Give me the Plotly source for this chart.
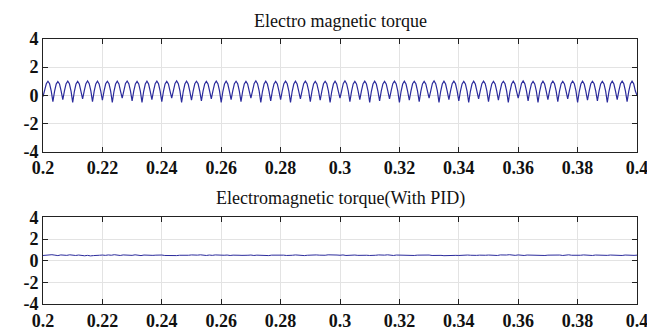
import numpy as np
import plotly.graph_objects as go

# ---- data ----
x_ticks = [0.2, 0.22, 0.24, 0.26, 0.28, 0.3, 0.32, 0.34, 0.36, 0.38, 0.4]
x_tick_labels = ["0.2", "0.22", "0.24", "0.26", "0.28", "0.3", "0.32", "0.34", "0.36", "0.38", "0.4"]
y_ticks = [-4, -2, 0, 2, 4]
y_tick_labels = ["-4", "-2", "0", "2", "4"]

# Top: electromagnetic torque without PID (60 ripples between 0.2 s and 0.4 s)
torque_plain = [
    -0.10, 0.30, 0.82, 1.00, 0.82, 0.30,
    -0.45, 0.28, 0.80, 0.98, 0.81, 0.29,
    -0.30, 0.31, 0.83, 1.01, 0.82, 0.30,
    -0.50, 0.27, 0.80, 0.99, 0.80, 0.28,
    -0.25, 0.32, 0.83, 1.02, 0.83, 0.31,
    -0.45, 0.28, 0.81, 1.00, 0.81, 0.29,
    -0.35, 0.30, 0.82, 0.99, 0.82, 0.30,
    -0.50, 0.27, 0.80, 1.00, 0.81, 0.28,
    -0.20, 0.32, 0.84, 1.01, 0.83, 0.31,
    -0.40, 0.29, 0.81, 0.99, 0.81, 0.29,
    -0.50, 0.27, 0.80, 1.00, 0.80, 0.28,
    -0.30, 0.31, 0.83, 1.01, 0.82, 0.30,
    -0.45, 0.28, 0.81, 0.99, 0.81, 0.29,
    -0.20, 0.32, 0.84, 1.02, 0.83, 0.31,
    -0.50, 0.27, 0.80, 1.00, 0.80, 0.28,
    -0.35, 0.30, 0.82, 1.00, 0.82, 0.30,
    -0.40, 0.29, 0.81, 0.99, 0.81, 0.29,
    -0.25, 0.32, 0.83, 1.01, 0.83, 0.31,
    -0.50, 0.27, 0.80, 1.00, 0.80, 0.28,
    -0.30, 0.31, 0.83, 1.00, 0.82, 0.30,
    -0.45, 0.28, 0.81, 0.99, 0.81, 0.29,
    -0.20, 0.32, 0.84, 1.02, 0.83, 0.31,
    -0.50, 0.27, 0.80, 1.00, 0.80, 0.28,
    -0.40, 0.29, 0.81, 0.99, 0.81, 0.29,
    -0.30, 0.31, 0.83, 1.01, 0.82, 0.30,
    -0.50, 0.27, 0.80, 1.00, 0.80, 0.28,
    -0.25, 0.32, 0.83, 1.01, 0.83, 0.31,
    -0.45, 0.28, 0.81, 0.99, 0.81, 0.29,
    -0.35, 0.30, 0.82, 1.00, 0.82, 0.30,
    -0.50, 0.27, 0.80, 1.00, 0.80, 0.28,
    -0.20, 0.32, 0.84, 1.02, 0.83, 0.31,
    -0.45, 0.28, 0.81, 0.99, 0.81, 0.29,
    -0.30, 0.31, 0.83, 1.01, 0.82, 0.30,
    -0.50, 0.27, 0.80, 1.00, 0.80, 0.28,
    -0.40, 0.29, 0.81, 0.99, 0.81, 0.29,
    -0.25, 0.32, 0.83, 1.01, 0.83, 0.31,
    -0.50, 0.27, 0.80, 1.00, 0.80, 0.28,
    -0.35, 0.30, 0.82, 1.00, 0.82, 0.30,
    -0.45, 0.28, 0.81, 0.99, 0.81, 0.29,
    -0.20, 0.32, 0.84, 1.02, 0.83, 0.31,
    -0.50, 0.27, 0.80, 1.00, 0.80, 0.28,
    -0.30, 0.31, 0.83, 1.01, 0.82, 0.30,
    -0.40, 0.29, 0.81, 0.99, 0.81, 0.29,
    -0.50, 0.27, 0.80, 1.00, 0.80, 0.28,
    -0.25, 0.32, 0.83, 1.01, 0.83, 0.31,
    -0.45, 0.28, 0.81, 0.99, 0.81, 0.29,
    -0.35, 0.30, 0.82, 1.00, 0.82, 0.30,
    -0.50, 0.27, 0.80, 1.00, 0.80, 0.28,
    -0.20, 0.32, 0.84, 1.02, 0.83, 0.31,
    -0.40, 0.29, 0.81, 0.99, 0.81, 0.29,
    -0.50, 0.27, 0.80, 1.00, 0.80, 0.28,
    -0.30, 0.31, 0.83, 1.01, 0.82, 0.30,
    -0.45, 0.28, 0.81, 0.99, 0.81, 0.29,
    -0.25, 0.32, 0.83, 1.01, 0.83, 0.31,
    -0.50, 0.27, 0.80, 1.00, 0.80, 0.28,
    -0.35, 0.30, 0.82, 1.00, 0.82, 0.30,
    -0.40, 0.29, 0.81, 0.99, 0.81, 0.29,
    -0.50, 0.27, 0.80, 1.00, 0.80, 0.28,
    -0.30, 0.31, 0.83, 1.01, 0.82, 0.30,
    -0.45, 0.28, 0.81, 1.00, 0.82, 0.30,
    0.00,
]

# Bottom: electromagnetic torque with PID (small ripple around 0.5)
torque_pid = [
    0.48, 0.52, 0.50, 0.55, 0.51, 0.47, 0.53, 0.50, 0.49, 0.54,
    0.51, 0.48, 0.52, 0.47, 0.45, 0.49, 0.44, 0.47, 0.46, 0.50,
    0.52, 0.49, 0.53, 0.50, 0.55, 0.51, 0.48, 0.53, 0.50, 0.52,
    0.49, 0.54, 0.51, 0.47, 0.52, 0.50, 0.53, 0.49, 0.51, 0.55,
    0.52, 0.48, 0.46, 0.49, 0.45, 0.47, 0.50, 0.48, 0.52, 0.50,
    0.53, 0.49, 0.51, 0.54, 0.50, 0.48, 0.52, 0.49, 0.53, 0.51,
    0.47, 0.50, 0.52, 0.48, 0.51, 0.54, 0.50, 0.49, 0.53, 0.50,
    0.52, 0.48, 0.51, 0.49, 0.53, 0.50, 0.47, 0.51, 0.52, 0.49,
    0.54, 0.51, 0.48, 0.52, 0.50, 0.53, 0.49, 0.51, 0.47, 0.50,
    0.52, 0.49, 0.53, 0.51, 0.48, 0.50, 0.54, 0.51, 0.49, 0.52,
    0.50, 0.53, 0.48, 0.51, 0.55, 0.52, 0.49, 0.51, 0.53, 0.50,
    0.48, 0.52, 0.50, 0.53, 0.49, 0.51, 0.54, 0.50, 0.48, 0.52,
    0.51, 0.49, 0.53, 0.50, 0.52, 0.48, 0.51, 0.53, 0.49, 0.50,
    0.52, 0.48, 0.50, 0.47, 0.49, 0.46, 0.48, 0.45, 0.47, 0.49,
    0.48, 0.51, 0.49, 0.52, 0.50, 0.53, 0.49, 0.51, 0.54, 0.50,
    0.52, 0.49, 0.51, 0.48, 0.53, 0.50, 0.52, 0.55, 0.51, 0.49,
    0.53, 0.50, 0.48, 0.52, 0.51, 0.49, 0.53, 0.50, 0.52, 0.48,
    0.51, 0.53, 0.49, 0.50, 0.52, 0.48, 0.51, 0.54, 0.50, 0.49,
    0.52, 0.50, 0.53, 0.49, 0.51, 0.48, 0.52, 0.50, 0.53, 0.51,
    0.49, 0.52, 0.50, 0.54, 0.51, 0.48, 0.52, 0.50, 0.53, 0.49,
    0.51,
]

t_plain = np.linspace(0.2, 0.4, len(torque_plain))
t_pid = np.linspace(0.2, 0.4, len(torque_pid))

title_top = "Electro magnetic torque"
title_bottom = "Electromagnetic torque(With PID)"

# ---- figure ----
line_color = "#2b2b9c"
serif = "Liberation Serif, Times New Roman, serif"

fig = go.Figure()
fig.add_trace(go.Scatter(x=t_plain, y=torque_plain, mode="lines",
                         line=dict(color=line_color, width=1.2),
                         xaxis="x", yaxis="y", showlegend=False))
fig.add_trace(go.Scatter(x=t_pid, y=torque_pid, mode="lines",
                         line=dict(color=line_color, width=1.0),
                         xaxis="x2", yaxis="y2", showlegend=False))

axis_common = dict(
    showline=True, linecolor="#222222", linewidth=1, mirror="ticks",
    ticks="inside", ticklen=5, tickcolor="#222222",
    showgrid=True, gridcolor="#e3e3e3", gridwidth=1, zeroline=False,
    tickfont=dict(family=serif, size=18, color="#111111", weight="bold"),
)

fig.update_layout(
    width=655, height=335,
    margin=dict(l=35, r=26, t=31, b=33),
    paper_bgcolor="white", plot_bgcolor="white",
    xaxis=dict(domain=[0, 1], anchor="y", range=[0.2, 0.4],
               tickvals=x_ticks, ticktext=x_tick_labels, **axis_common),
    yaxis=dict(domain=[0.575, 1.0], anchor="x", range=[-4, 4],
               tickvals=y_ticks, ticktext=y_tick_labels, **axis_common),
    xaxis2=dict(domain=[0, 1], anchor="y2", range=[0.2, 0.4],
                tickvals=x_ticks, ticktext=x_tick_labels, **axis_common),
    yaxis2=dict(domain=[0.0, 0.327], anchor="x2", range=[-4, 4],
                tickvals=y_ticks, ticktext=y_tick_labels, **axis_common),
    annotations=[
        dict(text=title_top, x=0.5, y=1.0, xref="paper", yref="paper",
             yanchor="bottom", yshift=6, showarrow=False,
             font=dict(family=serif, size=18, color="#111111")),
        dict(text=title_bottom, x=0.5, y=0.327, xref="paper", yref="paper",
             yanchor="bottom", yshift=6, showarrow=False,
             font=dict(family=serif, size=18, color="#111111")),
    ],
)

fig.write_html("out.html")
